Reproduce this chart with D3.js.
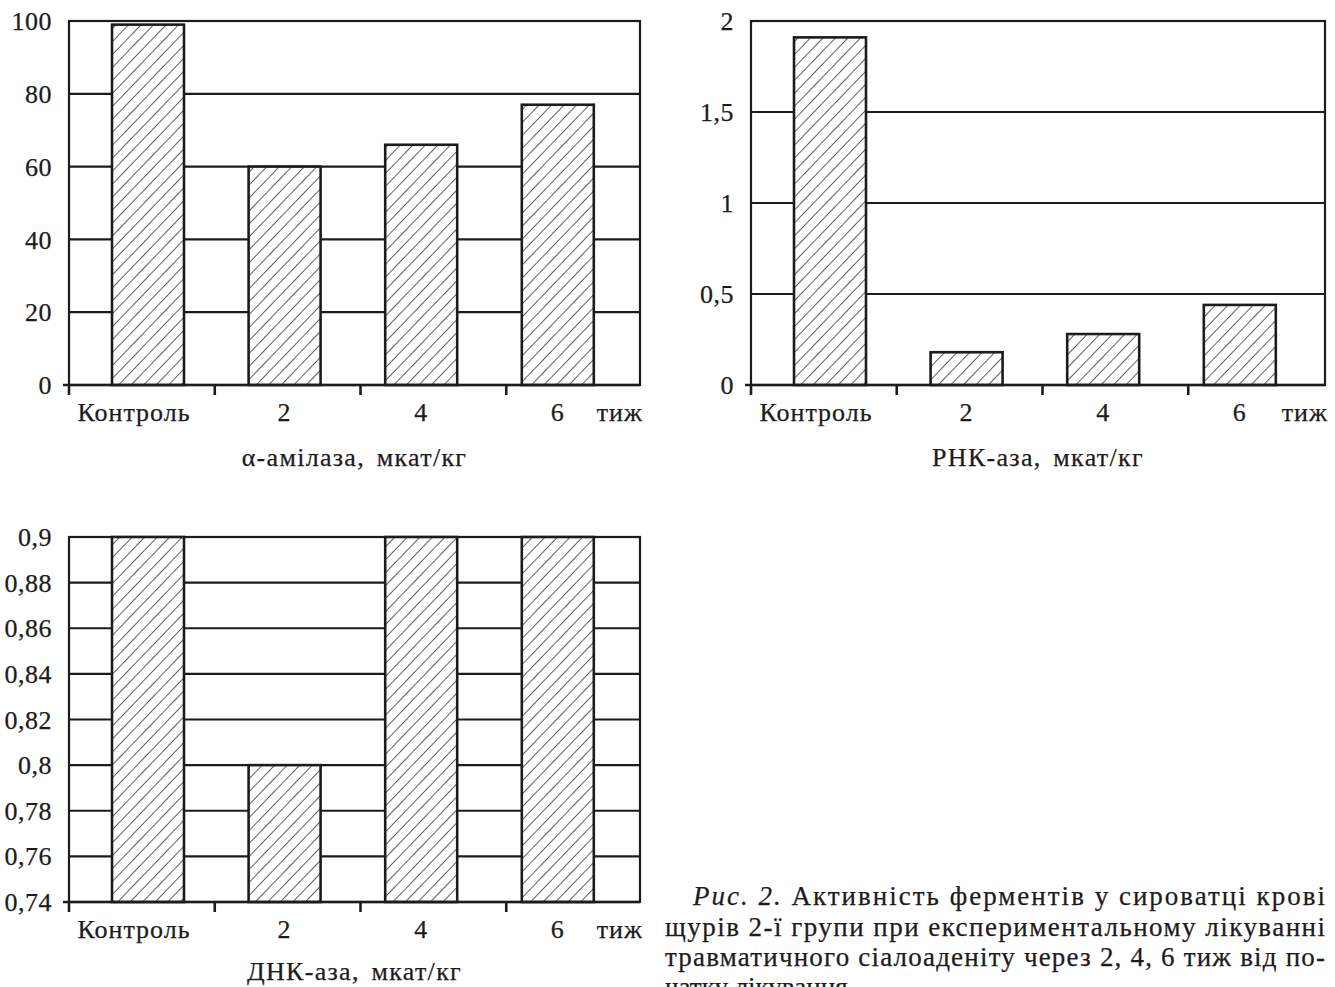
<!DOCTYPE html>
<html>
<head>
<meta charset="utf-8">
<script src="https://cdn.jsdelivr.net/npm/d3@7"></script>
<style>
  html, body { margin: 0; padding: 0; background: #fff; }
  svg text { font-family: "Liberation Serif", "Times New Roman", serif; fill: #1e1b1c; stroke: #1e1b1c; stroke-width: 0.25px; }
</style>
</head>
<body>
<svg id="chart" width="1335" height="987"></svg>
<script>
// categories and values
const categories = ["Контроль", "2", "4", "6"];
const amylase = [99, 60, 66, 77];
const rnase = [1.91, 0.18, 0.28, 0.44];
const dnase = [0.9, 0.8, 0.9, 0.9];

const amylaseTicks = [0, 20, 40, 60, 80, 100];
const rnaseTicks = [0, 0.5, 1, 1.5, 2];
const dnaseTicks = [0.74, 0.76, 0.78, 0.8, 0.82, 0.84, 0.86, 0.88, 0.9];

const unitLabel = "тиж";
const captionLines = [
    "Активність ферментів у сироватці крові",
    "щурів 2-ї групи при експериментальному лікуванні",
    "травматичного сіалоаденіту через 2, 4, 6 тиж від по-",
    "чатку лікування"
];

const ink = "#1e1b1c";
const svg = d3.select("#chart");

// hatch pattern for bars
const defs = svg.append("defs");
defs.append("pattern")
    .attr("id", "hatch")
    .attr("patternUnits", "userSpaceOnUse")
    .attr("width", 9)
    .attr("height", 9)
    .attr("patternTransform", "rotate(44)")
    .append("line")
    .attr("x1", 0).attr("y1", 0)
    .attr("x2", 0).attr("y2", 9)
    .attr("stroke", ink)
    .attr("stroke-width", 1.4);

function fmt(v){
    return String(+v.toFixed(2)).replace(".", ",");
}

function drawPanel(cfg)
{
    let w = cfg.width, h = cfg.height;
    let g = svg.append("g").attr("transform", "translate(" + cfg.left + "," + cfg.top + ")");

    // bar positions
    let x = d3.scaleBand()
        .domain(categories)
        .range([10.7, 557.1])
        .paddingInner(0.473)
        .paddingOuter(0.2365);

    // tick positions between categories
    let xTick = d3.scaleBand()
        .domain(categories)
        .range([0, 583]);

    let y = d3.scaleLinear()
        .domain([cfg.ticks[0], cfg.ticks[cfg.ticks.length - 1]])
        .range([h, 0]);

    // grid lines
    g.selectAll(".grid")
        .data(cfg.ticks.slice(1))
        .enter()
        .append("line")
        .attr("x1", 0).attr("x2", w)
        .attr("y1", d => y(d)).attr("y2", d => y(d))
        .attr("stroke", ink)
        .attr("stroke-width", 2.2);

    // frame
    g.append("rect")
        .attr("x", 0).attr("y", 0)
        .attr("width", w).attr("height", h)
        .attr("fill", "none")
        .attr("stroke", ink)
        .attr("stroke-width", 2.2);

    // bars
    g.selectAll(".bar")
        .data(cfg.values)
        .enter()
        .append("rect")
        .attr("x", (d, i) => x(categories[i]))
        .attr("y", d => y(d))
        .attr("width", x.bandwidth())
        .attr("height", d => h - y(d))
        .attr("fill", "#fff");

    g.selectAll(".barh")
        .data(cfg.values)
        .enter()
        .append("rect")
        .attr("x", (d, i) => x(categories[i]))
        .attr("y", d => y(d))
        .attr("width", x.bandwidth())
        .attr("height", d => h - y(d))
        .attr("fill", "url(#hatch)")
        .attr("stroke", ink)
        .attr("stroke-width", 2.6);

    // x axis line
    g.append("line")
        .attr("x1", -6).attr("x2", w)
        .attr("y1", h).attr("y2", h)
        .attr("stroke", ink)
        .attr("stroke-width", 2.6);

    // x ticks
    g.selectAll(".xtick")
        .data(categories)
        .enter()
        .append("line")
        .attr("x1", d => xTick(d))
        .attr("x2", d => xTick(d))
        .attr("y1", h).attr("y2", h + 10)
        .attr("stroke", ink)
        .attr("stroke-width", 2.6);

    // y tick labels
    g.selectAll(".ylab")
        .data(cfg.ticks)
        .enter()
        .append("text")
        .attr("x", -17)
        .attr("y", d => y(d))
        .attr("dy", "0.35em")
        .attr("text-anchor", "end")
        .style("font-size", "26px")
        .style("letter-spacing", "0.5px")
        .text(d => fmt(d));

    // x labels
    g.selectAll(".xlab")
        .data(categories)
        .enter()
        .append("text")
        .attr("x", d => x(d) + x.bandwidth() / 2 - (d === categories[0] ? 14 : 0))
        .attr("y", h + 36)
        .attr("text-anchor", "middle")
        .style("font-size", "26px")
        .style("letter-spacing", "1px")
        .text(d => d);

    g.append("text")
        .attr("x", w + 3)
        .attr("y", h + 36)
        .attr("text-anchor", "end")
        .style("font-size", "26px")
        .style("letter-spacing", "1px")
        .text(unitLabel);

    // title
    g.append("text")
        .attr("x", w / 2)
        .attr("y", h + cfg.titleDy)
        .attr("text-anchor", "middle")
        .style("font-size", "26px")
        .style("letter-spacing", "1.3px")
        .style("word-spacing", "4px")
        .text(cfg.title);
}

drawPanel({left: 69, top: 21, width: 571, height: 364, values: amylase, ticks: amylaseTicks, title: "α-амілаза, мкат/кг", titleDy: 81});
drawPanel({left: 751, top: 21, width: 574, height: 364, values: rnase, ticks: rnaseTicks, title: "РНК-аза, мкат/кг", titleDy: 81});
drawPanel({left: 69, top: 537, width: 571, height: 365, values: dnase, ticks: dnaseTicks, title: "ДНК-аза, мкат/кг", titleDy: 78});

// caption
let cap = svg.append("g");
let first = cap.append("text")
    .attr("x", 693)
    .attr("y", 905)
    .attr("textLength", 632)
    .attr("lengthAdjust", "spacing")
    .style("font-size", "27px");
first.append("tspan").style("font-style", "italic").text("Рис. 2.");
first.append("tspan").text(" " + captionLines[0]);

captionLines.slice(1).forEach(function(line, i){
    let t = cap.append("text")
        .attr("x", 665)
        .attr("y", 935.5 + i * 30.3)
        .style("font-size", "27px")
        .text(line);
    if(i < 2)
        t.attr("textLength", 660).attr("lengthAdjust", "spacing");
});
</script>
</body>
</html>
